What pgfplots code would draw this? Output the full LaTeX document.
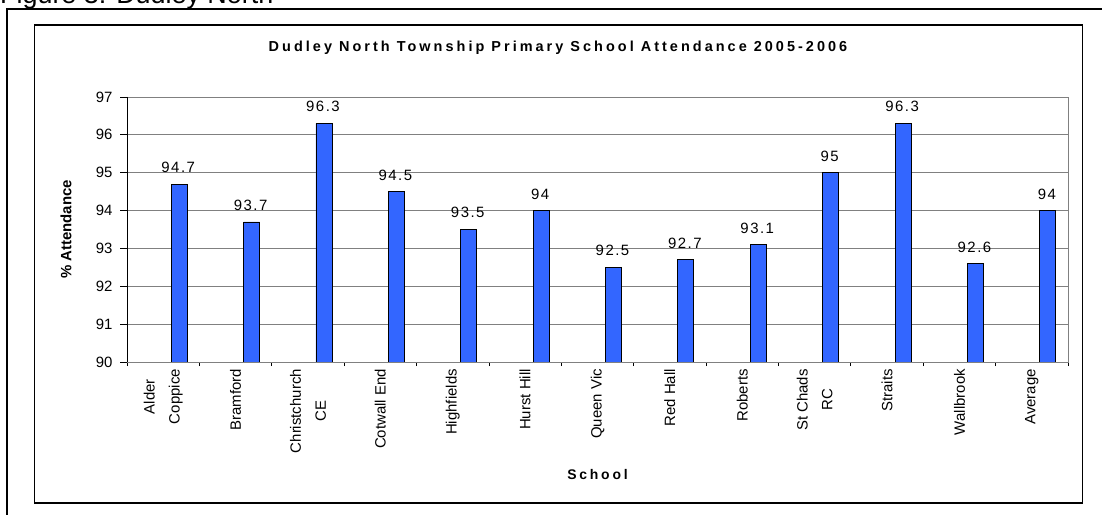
\documentclass[border=0pt]{standalone}
\usepackage{fontspec}
\setmainfont{Liberation Sans}
\usepackage{pgfplots}
\pgfplotsset{compat=1.18}
\definecolor{barblue}{RGB}{51,102,255}
\begin{document}
\begin{tikzpicture}
\useasboundingbox (0bp,0bp) rectangle (1102bp,515bp);
\clip (0bp,0bp) rectangle (1102bp,515bp);
\node[anchor=base west, inner sep=0pt, font=\fontsize{27}{30}\selectfont] at (0bp,511bp) {Figure 3: Dudley North};
\draw[line width=2bp] (7bp,-5bp) -- (7bp,505.7bp) -- (1110bp,505.7bp);
\draw[line width=1.5bp] (34.7bp,12bp) rectangle (1082.5bp,490bp);
\begin{axis}[
  at={(127bp,153bp)}, anchor=south west,
  scale only axis, width=941bp, height=265bp,
  xmin=-0.5, xmax=12.5, ymin=90, ymax=97,
  ytick={90,91,...,97},
  xtick={0,1,...,12},
  xticklabels={{Alder\\Coppice},Bramford,{Christchurch\\CE},Cotwall End,Highfields,Hurst Hill,Queen Vic,Red Hall,Roberts,{St Chads\\RC},Straits,Wallbrook,Average},
  minor xtick={-0.5,0.5,...,12.5},
  tick pos=left,
  tick align=outside,
  major tick length=7bp,
  minor tick length=4bp,
  major x tick style={draw=none},
  tick style={black, line width=0.8bp},
  ymajorgrids,
  grid style={gray, line width=0.8bp},
  axis line style={gray, line width=0.8bp},
  /pgf/number format/assume math mode=true,
  xticklabel style={font=\fontsize{15}{25}\selectfont, rotate=90, anchor=east, align=center, inner sep=0pt},
  yticklabel style={font=\fontsize{15}{18}\selectfont, xshift=-4bp},
  title={Dudley North Township Primary School Attendance 2005-2006},
  title style={at={(axis description cs:0.458,1.1623)}, anchor=center, font=\bfseries\fontsize{14.5}{16}\selectfont\addfontfeatures{LetterSpace=21}},
  ylabel={\% Attendance},
  ylabel style={at={(axis description cs:-0.0648,0.5)}, anchor=center, font=\bfseries\fontsize{15}{18}\selectfont},
  xlabel={School},
  xlabel style={at={(axis description cs:0.5,-0.4264)}, anchor=center, font=\bfseries\fontsize{14}{16}\selectfont\addfontfeatures{LetterSpace=20}},
]
\addplot[ybar, bar width=16bp, bar shift=16bp, fill=barblue, draw=black, line width=0.8bp,
  nodes near coords,
  nodes near coords style={font=\fontsize{15}{18}\selectfont\addfontfeatures{LetterSpace=10}, anchor=south, inner sep=0pt, xshift=15bp, yshift=11bp, text=black}]
coordinates {(0,94.7) (1,93.7) (2,96.3) (3,94.5) (4,93.5) (5,94) (6,92.5) (7,92.7) (8,93.1) (9,95) (10,96.3) (11,92.6) (12,94)};
\draw[black, line width=0.8bp] (rel axis cs:0,1) -- (rel axis cs:0,0) -- (rel axis cs:1,0);
\end{axis}
\end{tikzpicture}
\end{document}
